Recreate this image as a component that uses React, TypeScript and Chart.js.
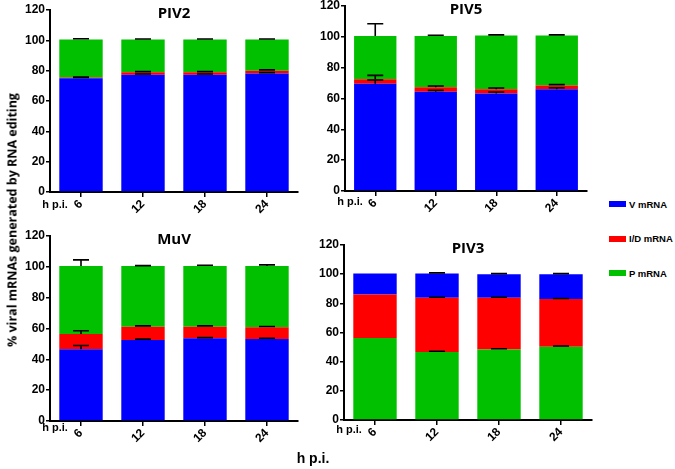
import React, { useEffect, useRef } from 'react';
import { Chart, registerables } from 'chart.js';
Chart.register(...registerables);

const hours = ['6', '12', '18', '24'];

const piv2V = [75, 77.3, 77.3, 78.2];
const piv2ID = [0.5, 1.6, 1.6, 1.8];
const piv2P = [25, 21.6, 21.6, 20.5];
const piv2VErr = [0.5, 0.5, 0.5, 0.5];
const piv2IDErr = [0.3, 0.5, 0.5, 0.5];
const piv2PErr = [0.5, 0.4, 0.4, 0.4];

const piv5V = [69.5, 64.3, 63.2, 66];
const piv5ID = [3, 3, 2.8, 2.4];
const piv5P = [28, 33.2, 34.8, 32.4];
const piv5VErr = [2.5, 1, 1, 1];
const piv5IDErr = [2.5, 0.8, 0.8, 0.6];
const piv5PErr = [8, 0.5, 0.5, 0.5];

const muvV = [46.5, 52.6, 53.6, 53.2];
const muvID = [10, 8.6, 7.6, 7.6];
const muvP = [44, 39.3, 39.3, 39.7];
const muvVErr = [2.5, 0.5, 0.5, 0.5];
const muvIDErr = [2, 0.5, 0.5, 0.5];
const muvPErr = [4, 0.3, 0.5, 0.8];

const piv3P = [56.2, 46.6, 48.4, 50.2];
const piv3ID = [29.8, 37.2, 35.4, 32.7];
const piv3V = [14.5, 16.7, 16.2, 17.1];
const piv3PErr = [0, 0.5, 0.5, 0.5];
const piv3IDErr = [0, 0.4, 0.4, 0.4];
const piv3VErr = [0, 0.4, 0.4, 0.4];

const BLUE = '#0000ff';
const RED = '#ff0000';
const GREEN = '#00c000';

const legendItems = [
  { label: 'V mRNA', color: BLUE },
  { label: 'I/D mRNA', color: RED },
  { label: 'P mRNA', color: GREEN },
];

type Series = { label: string; data: number[]; err: number[]; color: string };

const FONT = '"Liberation Sans", Arial, sans-serif';

function Panel(props: {
  title: string;
  series: Series[];
  left: number;
  right: number;
  top: number;
  bottom: number;
  hpi: number;
}) {
  const { title, series, left, right, top, bottom, hpi } = props;
  const ref = useRef<HTMLCanvasElement>(null);
  const padL = 52, padR = 12, padT = 12, padB = 40;
  const w = right - left + padL + padR;
  const h = bottom - top + padT + padB;

  useEffect(() => {
    const errPlugin = {
      id: 'errbars',
      afterDatasetsDraw(chart: any) {
        const ctx = chart.ctx;
        const ys = chart.scales.y;
        ctx.save();
        ctx.strokeStyle = '#000';
        ctx.lineWidth = 1.6;
        const cum = [0, 0, 0, 0];
        series.forEach((s, i) => {
          const meta = chart.getDatasetMeta(i);
          s.data.forEach((v, j) => {
            cum[j] += v;
            const e = s.err[j];
            if (!e) return;
            const x = meta.data[j].x;
            const y0 = ys.getPixelForValue(cum[j]);
            const y1 = ys.getPixelForValue(cum[j] + e);
            ctx.beginPath();
            ctx.moveTo(x, y0);
            ctx.lineTo(x, y1);
            ctx.moveTo(x - 8, y1);
            ctx.lineTo(x + 8, y1);
            ctx.stroke();
          });
        });
        ctx.restore();
      },
    };
    const textPlugin = {
      id: 'paneltext',
      afterDraw(chart: any) {
        const ctx = chart.ctx;
        const a = chart.chartArea;
        ctx.save();
        ctx.fillStyle = '#000';
        ctx.textAlign = 'center';
        ctx.textBaseline = 'middle';
        ctx.font = 'bold 15px "Open Sans", ' + FONT;
        ctx.fillText(title, (a.left + a.right) / 2, a.top + 4);
        ctx.font = 'bold 11px ' + FONT;
        ctx.fillText('h p.i.', a.left + 5, a.bottom + hpi);
        ctx.restore();
      },
    };
    const chart = new Chart(ref.current as HTMLCanvasElement, {
      type: 'bar',
      data: {
        labels: hours,
        datasets: series.map((s) => ({
          label: s.label,
          data: s.data,
          backgroundColor: s.color,
          borderWidth: 0,
          barPercentage: 0.7,
          categoryPercentage: 1,
        })),
      },
      options: {
        responsive: false,
        maintainAspectRatio: false,
        animation: false,
        layout: { padding: { left: 0, right: padR, top: padT, bottom: 0 } },
        plugins: {
          legend: { display: false },
          tooltip: { enabled: false },
          title: { display: false },
        },
        scales: {
          x: {
            stacked: true,
            grid: {
              display: true,
              drawOnChartArea: false,
              offset: false,
              color: '#000',
              lineWidth: 1.5,
              tickLength: 5,
            },
            border: { display: true, color: '#000', width: 2 },
            ticks: {
              color: '#000',
              font: { family: FONT, weight: 'bold', size: 12 },
              minRotation: 45,
              maxRotation: 45,
              padding: 0,
            },
            afterFit: (s: any) => {
              s.height = padB;
            },
          },
          y: {
            stacked: true,
            min: 0,
            max: 120,
            grid: {
              display: true,
              drawOnChartArea: false,
              color: '#000',
              lineWidth: 1.5,
              tickLength: 4,
            },
            border: { display: true, color: '#000', width: 2 },
            ticks: {
              stepSize: 20,
              color: '#000',
              font: { family: FONT, weight: 'bold', size: 12 },
              padding: 1,
            },
            afterFit: (s: any) => {
              s.width = padL;
            },
          },
        },
      } as any,
      plugins: [errPlugin, textPlugin],
    });
    return () => chart.destroy();
  }, []);

  return (
    <canvas
      ref={ref}
      width={w}
      height={h}
      style={{ position: 'absolute', left: left - padL, top: top - padT, width: w, height: h }}
    />
  );
}

export default function App() {
  return (
    <div
      style={{
        position: 'fixed',
        left: 0,
        top: 0,
        width: 675,
        height: 469,
        background: '#fff',
        overflow: 'hidden',
        fontFamily: FONT,
      }}
    >
      <Panel
        title="PIV2"
        left={50}
        right={298}
        top={10}
        bottom={192}
        hpi={13}
        series={[
          { label: 'V mRNA', data: piv2V, err: piv2VErr, color: BLUE },
          { label: 'I/D mRNA', data: piv2ID, err: piv2IDErr, color: RED },
          { label: 'P mRNA', data: piv2P, err: piv2PErr, color: GREEN },
        ]}
      />
      <Panel
        title="PIV5"
        left={345}
        right={587}
        top={6}
        bottom={191}
        hpi={11}
        series={[
          { label: 'V mRNA', data: piv5V, err: piv5VErr, color: BLUE },
          { label: 'I/D mRNA', data: piv5ID, err: piv5IDErr, color: RED },
          { label: 'P mRNA', data: piv5P, err: piv5PErr, color: GREEN },
        ]}
      />
      <Panel
        title="MuV"
        left={50}
        right={298}
        top={236}
        bottom={421}
        hpi={7}
        series={[
          { label: 'V mRNA', data: muvV, err: muvVErr, color: BLUE },
          { label: 'I/D mRNA', data: muvID, err: muvIDErr, color: RED },
          { label: 'P mRNA', data: muvP, err: muvPErr, color: GREEN },
        ]}
      />
      <Panel
        title="PIV3"
        left={344}
        right={592}
        top={245}
        bottom={420}
        hpi={10}
        series={[
          { label: 'P mRNA', data: piv3P, err: piv3PErr, color: GREEN },
          { label: 'I/D mRNA', data: piv3ID, err: piv3IDErr, color: RED },
          { label: 'V mRNA', data: piv3V, err: piv3VErr, color: BLUE },
        ]}
      />
      <div
        style={{
          position: 'absolute',
          left: 12,
          top: 220,
          transform: 'translate(-50%, -50%) rotate(-90deg)',
          whiteSpace: 'nowrap',
          fontFamily: '"Open Sans", ' + FONT,
          fontWeight: 'bold',
          fontSize: 12.5,
          color: '#000',
        }}
      >
        % viral mRNAs generated by RNA editing
      </div>
      <div
        style={{
          position: 'absolute',
          left: 313,
          top: 458,
          transform: 'translate(-50%, -50%)',
          whiteSpace: 'nowrap',
          fontWeight: 'bold',
          fontSize: 14,
          color: '#000',
        }}
      >
        h p.i.
      </div>
      {legendItems.map((it, i) => (
        <div
          key={it.label}
          style={{
            position: 'absolute',
            left: 609,
            top: 204 + i * 34.5 - 7,
            height: 14,
            display: 'flex',
            alignItems: 'center',
            whiteSpace: 'nowrap',
          }}
        >
          <div style={{ width: 17, height: 6, background: it.color, marginRight: 3 }} />
          <span style={{ fontWeight: 'bold', fontSize: 9.5, color: '#000' }}>{it.label}</span>
        </div>
      ))}
    </div>
  );
}
